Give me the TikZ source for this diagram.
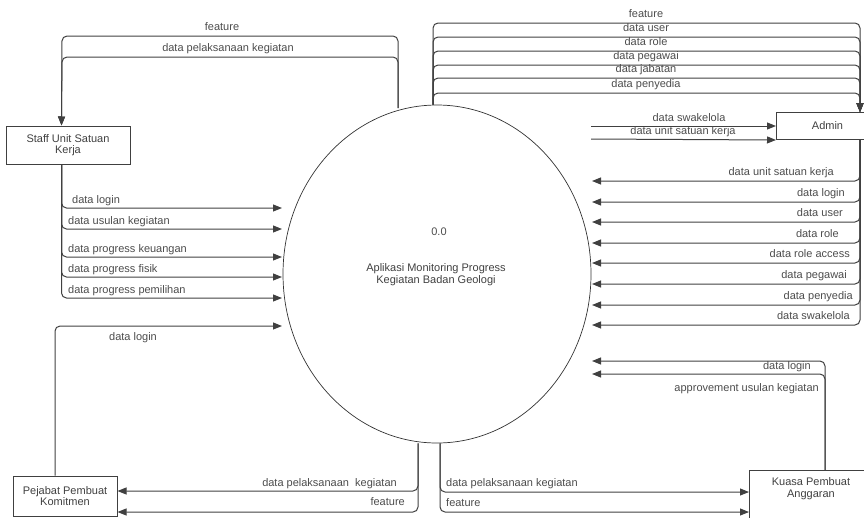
\documentclass[tikz,border=0pt]{standalone}
\usepackage{fontspec}
\setmainfont{Liberation Sans}
\usetikzlibrary{arrows.meta,shapes.geometric}
\begin{document}
\begin{tikzpicture}[x=1pt,y=-1pt,
  txtfont/.style={font=\fontsize{11}{11.5}\selectfont},
  flow/.style={draw=black!75, line width=1pt, rounded corners=5pt, -{Triangle[length=9pt,width=7pt]}},
  lbl/.style={txtfont, text=black!70, inner sep=0pt, text height=8pt, text depth=2.5pt},
  entity/.style={draw=black!75, line width=1pt, rectangle, inner sep=0pt, align=center, txtfont, text=black!75},
  proc/.style={draw=black!80, line width=0.7pt, ellipse, inner sep=0pt}
]
\useasboundingbox (0,0) rectangle (864,517);
\clip (0,0) rectangle (864,517);

% process
\node[proc, minimum width=308pt, minimum height=338pt] (P) at (437,274) {};
\node[lbl] (pnum) at (439,233) {0.0};
\node[txtfont, text=black!75, align=center, inner sep=0pt] (pname) at (436,274.5) {Aplikasi Monitoring Progress\\Kegiatan Badan Geologi};

% entities
\node[entity, minimum width=124pt, minimum height=38pt] (staff) at (68,145) {Staff Unit Satuan\\Kerja};
\node[entity, minimum width=104pt, minimum height=40pt] (ppk) at (65,496) {Pejabat Pembuat\\Komitmen};
\node[entity, minimum width=102pt, minimum height=27pt, anchor=north west] (admin) at (776,112) {Admin};
\node[entity, minimum width=140pt, minimum height=60pt, anchor=north west] (kpa) at (749,470) {};
\node[txtfont, text=black!75, align=center, inner sep=0pt] (kpatxt) at (811,488.5) {Kuasa Pembuat\\Anggaran};

% named connector points
\coordinate (tlS) at (398,108);
\coordinate (sTop) at ([xshift=56pt]staff.north west);
\coordinate (sBot) at ([xshift=56pt]staff.south west);
\coordinate (aTop) at ([xshift=84pt]admin.north west);
\coordinate (aBot) at ([xshift=84pt]admin.south west);
\coordinate (kTop) at ([xshift=76pt]kpa.north west);
\coordinate (pTop) at ([xshift=-10pt]ppk.north);
\coordinate (sw1) at (591,126);
\coordinate (sw2) at (591,139);

% process -> staff (top left)
\draw[flow] (tlS) -- (398,36) -- (62,36) -- (sTop);
\draw[flow] (tlS) -- (398,57) -- (62,57) -- (sTop);
\node[lbl] (tl1) at (222,28) {feature};
\node[lbl] (tl2) at (228,49) {data pelaksanaan kegiatan};

% process -> admin (top right)
\foreach \yy/\tt [count=\i] in {23/feature, 37/data user, 51/data role, 65/data pegawai, 78/data jabatan, 93/data penyedia}{
  \draw[flow] ([xshift=-4pt]P.north) |- (aTop |- 0,\yy) -- (aTop);
  \node[lbl] (tr\i) at (646,\yy-8) {\tt};
}

% free flows into admin
\draw[flow] (sw1) -- (admin.west |- sw1);
\draw[flow] (sw2) -- (admin.south west);
\node[lbl] (sl1) at (689,119) {data swakelola};
\node[lbl] (sl2) at (683,132) {data unit satuan kerja};

% admin -> process
\foreach \yy/\xr/\tt [count=\i] in {181/834/data unit satuan kerja, 202/845/data login, 222/843/data user, 243/839/data role, 263/850/data role access, 284/847/data pegawai, 305/853/data penyedia, 325/850/data swakelola}{
  \draw[flow] (aBot) |- (592,\yy);
  \node[lbl, anchor=east] (ar\i) at (\xr,\yy-8) {\tt};
}

% kuasa -> process
\draw[flow] (kTop) |- (592,361);
\draw[flow] (kTop) |- (592,374);
\node[lbl, anchor=east] (kl1) at (811,367) {data login};
\node[lbl, anchor=east] (kl2) at (819,389) {approvement usulan kegiatan};

% process -> ppk
\draw[flow] ([xshift=-19pt]P.south) |- (ppk.east |- 0,491);
\draw[flow] ([xshift=-19pt]P.south) |- (ppk.east |- 0,512);
\node[lbl, anchor=east] (pl1) at (397,483.5) {data pelaksanaan\ \ kegiatan};
\node[lbl, anchor=east] (pl2) at (405,502.5) {feature};

% process -> kuasa
\draw[flow] ([xshift=3pt]P.south) |- (kpa.west |- 0,492);
\draw[flow] ([xshift=3pt]P.south) |- (kpa.west |- 0,512);
\node[lbl, anchor=west] (kl3) at (446,484) {data pelaksanaan kegiatan};
\node[lbl, anchor=west] (kl4) at (446,503.5) {feature};

% ppk -> process
\draw[flow] (pTop) |- (282,326);
\node[lbl] (pl3) at (133,338) {data login};

% staff -> process
\foreach \yy/\xl/\tt [count=\i] in {208/72/data login, 229/68/data usulan kegiatan, 257/68/data progress keuangan, 277/68/data progress fisik, 298/68/data progress pemilihan}{
  \draw[flow] (sBot) |- (282,\yy);
  \node[lbl, anchor=west] (sl\i x) at (\xl,\yy-7) {\tt};
}
\end{tikzpicture}
\end{document}
